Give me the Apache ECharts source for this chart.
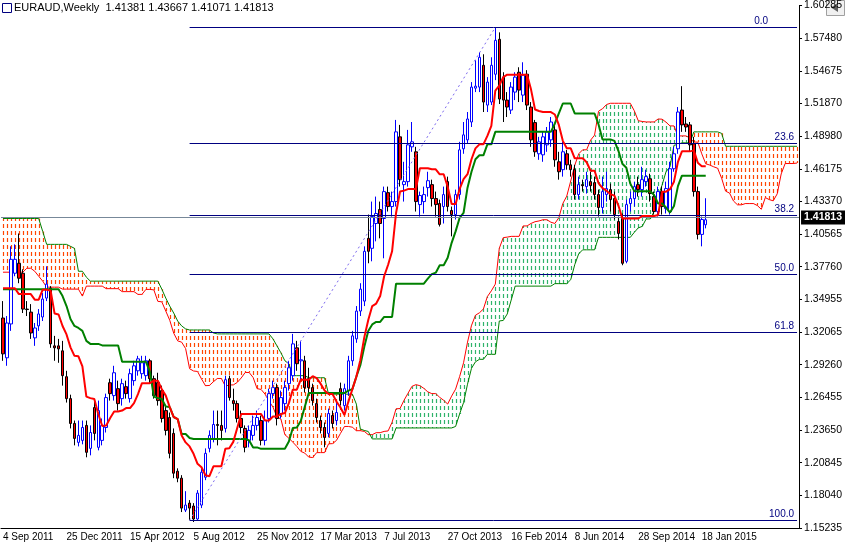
<!DOCTYPE html>
<html>
<head>
<meta charset="utf-8">
<script src="https://cdn.jsdelivr.net/npm/echarts@6/dist/echarts.min.js"></script>
<style>
  html, body { margin: 0; padding: 0; background: #fff; }
  #main { width: 845px; height: 549px; }
</style>
</head>
<body>
<div id="main"></div>
<script>
// weekly EURAUD, one candle per week starting 4 Sep 2011
var opens = [1.3334,1.2991,1.3283,1.3720,1.3806,1.3720,1.3411,1.3385,1.3163,1.3266,1.3343,1.3506,1.3591,1.3094,1.3094,1.3051,1.2828,1.2639,1.2425,1.2262,
  1.2279,1.2408,1.2210,1.2562,1.2219,1.2279,1.2390,1.2776,1.2665,1.2725,1.2639,1.2742,1.2639,1.2794,1.2879,1.2854,1.2837,1.2965,1.2811,1.2777,
  1.2708,1.2536,1.2476,1.2339,1.2013,1.1953,1.1678,1.1738,1.1713,1.1601,1.1721,1.1961,1.2210,1.2296,1.2416,1.2408,1.2382,1.2811,1.2622,1.2596,
  1.2468,1.2382,1.2279,1.2322,1.2408,1.2450,1.2279,1.2468,1.2682,1.2734,1.2510,1.2596,1.2768,1.2837,1.3077,1.2965,1.2965,1.2811,1.2734,1.2596,
  1.2450,1.2390,1.2339,1.2493,1.2450,1.2725,1.2579,1.2708,1.2965,1.3154,1.3394,1.3480,1.4021,1.3935,1.4149,1.4269,1.4192,1.4415,1.4295,1.4338,
  1.4896,1.4484,1.4510,1.4810,1.4767,1.4312,1.4338,1.4458,1.4484,1.4364,1.4321,1.4295,1.4510,1.4261,1.4226,1.4398,1.4793,1.4870,1.5024,1.5316,
  1.5325,1.5513,1.5170,1.5196,1.5436,1.5737,1.5411,1.5213,1.5127,1.5282,1.5453,1.5256,1.5436,1.5153,1.5019,1.4750,1.4741,1.4827,1.4870,1.4956,
  1.4681,1.4613,1.4750,1.4655,1.4613,1.4398,1.4484,1.4467,1.4510,1.4501,1.4398,1.4287,1.4398,1.4441,1.4364,1.4166,1.4192,1.3823,1.4321,1.4364,
  1.4484,1.4441,1.4510,1.4535,1.4381,1.4252,1.4424,1.4278,1.4252,1.4621,1.4793,1.5127,1.5007,1.4999,1.4836,1.4424,1.4055,1.41381];
var closes = [1.3025,1.3291,1.3840,1.3840,1.3677,1.3411,1.3407,1.3205,1.3248,1.3369,1.3497,1.3626,1.3111,1.3077,1.3068,1.2837,1.2639,1.2425,1.2296,1.2322,
  1.2390,1.2176,1.2347,1.2339,1.2536,1.2408,1.2648,1.2682,1.2862,1.2596,1.2768,1.2682,1.2854,1.2922,1.2982,1.2948,1.2965,1.2811,1.2665,1.2622,
  1.2468,1.2365,1.2167,1.1996,1.1953,1.1695,1.1721,1.1695,1.1601,1.1824,1.2004,1.2167,1.2322,1.2416,1.2408,1.2365,1.2802,1.2648,1.2596,1.2468,
  1.2390,1.2219,1.2365,1.2408,1.2476,1.2279,1.2450,1.2682,1.2734,1.2468,1.2648,1.2734,1.2905,1.3111,1.2940,1.2974,1.2734,1.2734,1.2622,1.2476,
  1.2390,1.2305,1.2510,1.2425,1.2519,1.2622,1.2725,1.2965,1.3180,1.3394,1.3583,1.3909,1.3909,1.4209,1.4235,1.4149,1.4424,1.4295,1.4338,1.4939,
  1.4527,1.4510,1.4827,1.4853,1.4338,1.4390,1.4398,1.4518,1.4364,1.4312,1.4141,1.4398,1.4295,1.4226,1.4398,1.4784,1.4913,1.5050,1.5325,1.5333,
  1.5582,1.5196,1.5368,1.5513,1.5728,1.5222,1.5213,1.5153,1.5325,1.5411,1.5299,1.5428,1.5170,1.4870,1.4767,1.4853,1.4896,1.4939,1.5024,1.4698,
  1.4595,1.4767,1.4655,1.4613,1.4398,1.4484,1.4475,1.4527,1.4475,1.4398,1.4287,1.4424,1.4450,1.4355,1.4226,1.4063,1.3806,1.4312,1.4364,1.4467,
  1.4441,1.4527,1.4553,1.4407,1.4252,1.4424,1.4295,1.4450,1.4621,1.4750,1.5110,1.4999,1.4981,1.4827,1.4424,1.4055,1.4183,1.41813];
var lows = [1.2965,1.2922,1.3223,1.3694,1.3634,1.3377,1.3351,1.3154,1.3094,1.3223,1.3308,1.3480,1.3077,1.2965,1.2948,1.2751,1.2605,1.2382,1.2236,1.2227,
  1.2245,1.2133,1.2150,1.2279,1.2193,1.2236,1.2347,1.2622,1.2622,1.2536,1.2579,1.2639,1.2605,1.2751,1.2837,1.2811,1.2794,1.2768,1.2639,1.2579,
  1.2433,1.2322,1.2124,1.1953,1.1918,1.1661,1.1661,1.1592,1.1575,1.1584,1.1695,1.1936,1.2176,1.2262,1.2236,1.2279,1.2347,1.2622,1.2536,1.2433,
  1.2339,1.2176,1.2219,1.2279,1.2365,1.2236,1.2236,1.2433,1.2639,1.2408,1.2468,1.2536,1.2708,1.2794,1.2879,1.2794,1.2691,1.2682,1.2579,1.2433,
  1.2339,1.2219,1.2305,1.2382,1.2408,1.2579,1.2536,1.2665,1.2922,1.3120,1.3351,1.3437,1.3806,1.3823,1.3995,1.4021,1.3849,1.4252,1.4209,1.4295,
  1.4467,1.4338,1.4467,1.4767,1.4252,1.4209,1.4235,1.4381,1.4295,1.4209,1.4123,1.4149,1.4252,1.4038,1.4183,1.4355,1.4750,1.4836,1.4981,1.5282,
  1.5282,1.5110,1.5110,1.5170,1.5385,1.5179,1.5024,1.5067,1.5093,1.5213,1.5196,1.5196,1.5127,1.4810,1.4724,1.4698,1.4681,1.4767,1.4810,1.4638,
  1.4527,1.4553,1.4613,1.4553,1.4355,1.4355,1.4424,1.4407,1.4424,1.4355,1.4209,1.4235,1.4338,1.4252,1.4183,1.4012,1.3789,1.3806,1.4252,1.4295,
  1.4381,1.4381,1.4467,1.4338,1.4226,1.4209,1.4226,1.4235,1.4226,1.4595,1.4750,1.4939,1.4939,1.4767,1.4381,1.4012,1.3952,1.41071];
var highs = [1.3480,1.3351,1.3952,1.3969,1.4063,1.3754,1.3480,1.3454,1.3291,1.3411,1.3549,1.3780,1.3609,1.3180,1.3154,1.3137,1.2879,1.2673,1.2450,1.2450,
  1.2450,1.2450,1.2408,1.2622,1.2622,1.2468,1.2682,1.2811,1.2922,1.2794,1.2811,1.2794,1.2897,1.2965,1.3008,1.3008,1.3008,1.2982,1.2837,1.2862,
  1.2751,1.2579,1.2519,1.2382,1.2038,1.1979,1.1841,1.1764,1.1738,1.1850,1.2038,1.2210,1.2365,1.2536,1.2536,1.2536,1.2837,1.2837,1.2725,1.2622,
  1.2536,1.2408,1.2408,1.2493,1.2536,1.2493,1.2536,1.2725,1.2794,1.2768,1.2708,1.2794,1.2965,1.3197,1.3137,1.3137,1.3008,1.2905,1.2768,1.2639,
  1.2493,1.2433,1.2553,1.2536,1.2622,1.2777,1.2768,1.3008,1.3223,1.3437,1.3634,1.3952,1.4226,1.4338,1.4381,1.4338,1.4467,1.4467,1.4424,1.5042,
  1.4999,1.4681,1.4956,1.5024,1.4810,1.4424,1.4467,1.4595,1.4527,1.4424,1.4355,1.4467,1.4553,1.4295,1.4441,1.4853,1.5024,1.5110,1.5368,1.5556,
  1.5625,1.5608,1.5411,1.5582,1.5840,1.5797,1.5453,1.5282,1.5368,1.5453,1.5496,1.5539,1.5471,1.5196,1.5042,1.4896,1.4939,1.4981,1.5067,1.4999,
  1.4767,1.4853,1.4784,1.4698,1.4655,1.4553,1.4527,1.4595,1.4595,1.4553,1.4441,1.4553,1.4595,1.4493,1.4424,1.4209,1.4235,1.4355,1.4424,1.4510,
  1.4553,1.4638,1.4613,1.4578,1.4424,1.4467,1.4467,1.4510,1.4681,1.4810,1.5153,1.5333,1.5067,1.5024,1.4896,1.4467,1.4209,1.43667];

// indicator values before enough history is on the chart
var tenkanHead = [1.3591,1.3591,1.3591,1.3591,1.3540,1.3540,1.3540,1.3540];
var kijunHead = [1.3583,1.3583,1.3583,1.3583,1.3583,1.3583,1.3583,1.3583,1.3583,1.3583,1.3583,1.3583,1.3583,1.3583,1.3583,
  1.3523,1.3437,1.3326,1.3266,1.3248,1.3223,1.3137,1.3111,1.3111,1.3111];
var spanAHead = [1.3729,1.3729,1.3729,1.3729,1.3729,1.3729,1.3763,1.3763,1.3737,1.3694,1.3652,1.3600,1.3600,1.3600,1.3600,
  1.3583,1.3583,1.3583,1.3583,1.3583,1.3523,1.3609,1.3609,1.3609,1.3609,1.3609];
var spanBHead = [1.4192,1.4192,1.4192,1.4192,1.4192,1.4192,1.4192,1.4192,1.4192,1.4192,1.4081,
  1.3969,1.3969,1.3969,1.3969,1.3969,1.3969,1.3952,1.3935,1.3737,1.3737,1.3686,
  1.3652,1.3652,1.3652,1.3652,1.3652,1.3652,1.3652,1.3652,1.3652,1.3652,1.3652,1.3652,1.3652,1.3652,1.3652,1.3652,1.3652,1.3652,
  1.3583,1.3506,1.3437,1.3377,1.3308,1.3266,1.3240,1.3231,1.3231,1.3231,1.3231,1.3231,1.3231,1.3205,
  1.3197,1.3197,1.3197,1.3197,1.3197,1.3197,1.3197,1.3197,1.3197,1.3197,1.3197,1.3197,1.3197,1.3197,
  1.3154,1.3094,1.3034,1.2965,1.2940,1.2837,1.2837,1.2837,1.2837];

var dateLabels = ['4 Sep 2011','25 Dec 2011','15 Apr 2012','5 Aug 2012','25 Nov 2012','17 Mar 2013',
  '7 Jul 2013','27 Oct 2013','16 Feb 2014','8 Jun 2014','28 Sep 2014','18 Jan 2015'];
var priceLabels = ['1.15235','1.18040','1.20845','1.23650','1.26455','1.29260','1.32065','1.34955','1.37760',
  '1.40565','1.43370','1.46175','1.48980','1.51870','1.54675','1.57480','1.60285'];
var fibHigh = 1.5840, fibLow = 1.1590;
var fibLevels = [0, 23.6, 38.2, 50, 61.8, 100];
var bid = 1.41813;

var nBars = 201;
var N = closes.length;
var cats = [];
for (var i = 0; i < nBars; i++) cats.push(String(i));

function mid(a, b) {
  var hi = -Infinity, lo = Infinity;
  for (var k = a; k <= b; k++) { hi = Math.max(hi, highs[k]); lo = Math.min(lo, lows[k]); }
  return (hi + lo) / 2;
}
var tenkan = [], kijun = [], spanA = [], spanB = [];
for (var i = 0; i < N; i++) {
  tenkan.push(i < 8 ? tenkanHead[i] : mid(i - 8, i));
  kijun.push(i < 25 ? kijunHead[i] : mid(i - 25, i));
}
for (var j = 0; j < nBars; j++) {
  spanA.push(j < 26 ? spanAHead[j] : (tenkan[j - 26] + kijun[j - 26]) / 2);
  spanB.push(j < 77 ? spanBHead[j] : mid(j - 77, j - 26));
}

var candleData = [];
for (var i = 0; i < N; i++) candleData.push([opens[i], closes[i], lows[i], highs[i]]);
var cloudData = [];
for (var j = 0; j < nBars; j++) cloudData.push([j, spanA[j], spanB[j]]);

var yMin = 1.15235, yMax = 1.60285;
var yStep = (yMax - yMin) / 16;

var fibLines = fibLevels.map(function (lv) {
  var v = fibHigh - (fibHigh - fibLow) * lv / 100;
  return [
    { coord: ['47', v] },
    { coord: ['200', v], label: {
      formatter: lv === 0 ? '0.0' : (lv === 100 ? '100.0' : lv.toFixed(1)),
      padding: lv === 0 ? [0, 28, 0, 0] : [0, 2, 0, 0]
    } }
  ];
});

var font = 'Liberation Sans';
var myChart = echarts.init(document.getElementById('main'));
var option = {
  animation: false,
  backgroundColor: '#fff',
  grid: { left: 0, right: 42, top: 3, bottom: 21 },
  xAxis: {
    type: 'category',
    data: cats,
    boundaryGap: true,
    axisLine: { lineStyle: { color: '#000' } },
    axisTick: { interval: function (i) { return i % 16 === 0 && i <= 176; }, length: 3, lineStyle: { color: '#000' } },
    axisLabel: {
      interval: function (i) { return i % 16 === 0 && i <= 176; },
      formatter: function (v, i) { return dateLabels[i / 16] || ''; },
      align: 'left', margin: 4, color: '#000', fontSize: 10, fontFamily: font
    },
    splitLine: { show: false }
  },
  yAxis: {
    type: 'value',
    position: 'right',
    min: yMin, max: yMax, interval: yStep,
    axisLine: { show: true, lineStyle: { color: '#000' } },
    axisTick: { show: true, length: 3, lineStyle: { color: '#000' } },
    axisLabel: {
      margin: 5, color: '#000', fontSize: 10.5, fontFamily: font,
      formatter: function (v) { return priceLabels[Math.round((v - yMin) / yStep)] || ''; }
    },
    splitLine: { show: false }
  },
  series: [
    {
      type: 'custom',
      name: 'cloud',
      clip: true,
      data: cloudData,
      encode: { x: 0, y: [1, 2] },
      renderItem: function (params, api) {
        var pa = api.coord([api.value(0), api.value(1)]);
        var pb = api.coord([api.value(0), api.value(2)]);
        var top = Math.min(pa[1], pb[1]), bot = Math.max(pa[1], pb[1]);
        var x = Math.round(pa[0]) + 0.5;
        return {
          type: 'line',
          shape: { x1: x, y1: top, x2: x, y2: bot },
          style: {
            stroke: api.value(1) >= api.value(2) ? '#2fb36a' : '#ff4500',
            lineWidth: 1.2, lineDash: [4, 3], lineDashOffset: top % 7
          }
        };
      },
      z: 1
    },
    {
      type: 'line', name: 'spanA', data: spanA, symbol: 'none',
      lineStyle: { color: '#ff0000', width: 1 }, z: 2
    },
    {
      type: 'line', name: 'spanB', data: spanB, symbol: 'none',
      lineStyle: { color: '#008000', width: 1 }, z: 2
    },
    {
      type: 'candlestick',
      name: 'EURAUD',
      data: candleData,
      barWidth: 3,
      itemStyle: { color: '#ffffff', color0: '#ff0000', borderColor: '#0000ff', borderColor0: '#000000', borderWidth: 1 },
      markLine: {
        silent: true, symbol: 'none',
        lineStyle: { color: '#778899', type: 'solid', width: 1 },
        label: {
          position: 'end', distance: 2, formatter: '1.41813', color: '#fff', backgroundColor: '#000',
          padding: [2, 3, 1, 3], fontSize: 10.5, fontFamily: font, fontWeight: 'bold'
        },
        data: [{ yAxis: bid }]
      },
      z: 3
    },
    {
      type: 'line', name: 'fib', data: [], symbol: 'none',
      markLine: {
        silent: true, symbol: 'none',
        lineStyle: { color: '#000080', type: 'solid', width: 1 },
        label: { position: 'insideEndTop', color: '#000080', fontSize: 10, fontFamily: font, distance: 1 },
        data: fibLines.concat([[
          { coord: ['47', fibLow], lineStyle: { color: '#7b68ee', type: [2, 3] }, label: { show: false } },
          { coord: ['124', fibHigh] }
        ]])
      },
      z: 2
    },
    {
      type: 'line', name: 'Kijun', data: kijun, symbol: 'none',
      lineStyle: { color: '#008000', width: 2 }, z: 4
    },
    {
      type: 'line', name: 'Tenkan', data: tenkan, symbol: 'none',
      lineStyle: { color: '#ff0000', width: 2 }, z: 5
    }
  ],
  graphic: [
    { type: 'rect', left: 2, top: 3, shape: { width: 9, height: 9 }, style: { fill: '#fff', stroke: '#000080' } },
    { type: 'text', left: 14, top: 2, style: { text: 'EURAUD,Weekly  1.41381 1.43667 1.41071 1.41813', fill: '#000', font: '11px ' + font } },
    { type: 'rect', left: 826, top: 0, shape: { width: 18, height: 15 }, style: { fill: '#f0f0f0', stroke: '#a0a0a0' } },
    { type: 'polygon', shape: { points: [[838, 3], [838, 12], [831, 7.5]] }, style: { fill: '#606060' } }
  ]
};
myChart.setOption(option);
</script>
</body>
</html>
